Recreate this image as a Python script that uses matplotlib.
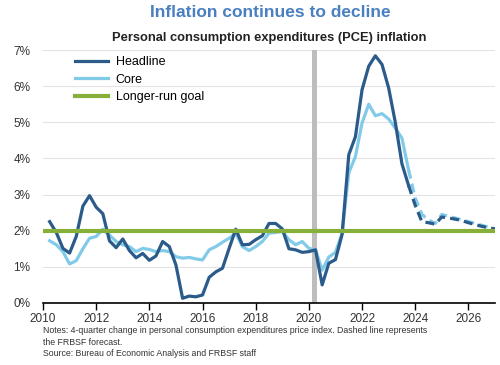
import numpy as np
import pandas as pd
import matplotlib

matplotlib.use("Agg")
import matplotlib.pyplot as plt

plt.rcParams["font.family"] = ["Liberation Sans", "DejaVu Sans"]

# quarterly PCE inflation, 2010Q1 - 2026Q4 (forecast from 2023Q3 on)
quarters = pd.period_range("2010Q1", "2026Q4", freq="Q")
headline = [
    2.25, 1.95, 1.51, 1.38, 1.84, 2.68, 2.97, 2.65, 2.47, 1.72,
    1.53, 1.77, 1.45, 1.25, 1.37, 1.18, 1.30, 1.70, 1.56, 1.05,
    0.13, 0.19, 0.17, 0.22, 0.71, 0.86, 0.96, 1.51, 2.04, 1.61,
    1.62, 1.75, 1.86, 2.20, 2.20, 2.05, 1.50, 1.47, 1.40, 1.42,
    1.47, 0.50, 1.10, 1.20, 1.90, 4.10, 4.60, 5.90, 6.55, 6.84,
    6.60, 5.95, 5.00, 3.85, 3.25, 2.70, 2.25, 2.22, 2.18, 2.38,
    2.35, 2.32, 2.28, 2.22, 2.17, 2.12, 2.08, 2.05,
]
core = [
    1.72, 1.61, 1.42, 1.08, 1.17, 1.50, 1.79, 1.84, 2.04, 1.88,
    1.70, 1.61, 1.56, 1.42, 1.51, 1.48, 1.42, 1.45, 1.42, 1.28,
    1.24, 1.26, 1.22, 1.19, 1.47, 1.56, 1.68, 1.79, 1.93, 1.56,
    1.45, 1.56, 1.70, 1.93, 1.95, 1.98, 1.75, 1.61, 1.70, 1.51,
    1.47, 0.91, 1.27, 1.40, 1.93, 3.60, 4.05, 4.98, 5.50, 5.18,
    5.24, 5.09, 4.84, 4.56, 3.68, 2.90, 2.45, 2.30, 2.20, 2.45,
    2.40, 2.35, 2.30, 2.25, 2.20, 2.15, 2.10, 2.05,
]
forecast_start = "2023Q3"
goal = 2.0
recession = (2020.10, 2020.31)
year_ticks = list(range(2010, 2027, 2))

x = np.array([q.year + q.quarter / 4 for q in quarters])
headline = np.array(headline)
core = np.array(core)
i0 = list(quarters.astype(str)).index(forecast_start)

dark = "#2b5b8a"
light = "#82cbe8"
green = "#86b03a"
dash = (0, (2.8, 1.6))

fig = plt.figure(figsize=(5, 3.65), dpi=100)
ax = fig.add_axes([0.086, 0.170, 0.904, 0.693])

ax.axvspan(*recession, color="#bdbdbd", lw=0, zorder=1)

ax.plot(x[: i0 + 1], core[: i0 + 1], color=light, lw=2.3, zorder=3, label="Core")
ax.plot(x[i0:], core[i0:], color=light, lw=2.3, ls=dash, zorder=3)
ax.plot(x[: i0 + 1], headline[: i0 + 1], color=dark, lw=2.3, zorder=4, label="Headline")
ax.plot(x[i0:], headline[i0:], color=dark, lw=2.3, ls=dash, zorder=4)
ax.axhline(goal, color=green, lw=3, zorder=5, label="Longer-run goal")

ax.set_xlim(2010, 2027)
ax.set_ylim(0, 7)
ax.set_yticks(range(0, 8))
ax.set_yticklabels([f"{v}%" for v in range(0, 8)])
ax.set_xticks(year_ticks)
ax.set_xticklabels([str(y) for y in year_ticks])
ax.grid(axis="y", color="#e3e3e3", lw=0.8, zorder=0)
ax.set_axisbelow(True)
for s in ["left", "top", "right"]:
    ax.spines[s].set_visible(False)
ax.spines["bottom"].set_color("black")
ax.spines["bottom"].set_linewidth(1.2)
ax.spines["bottom"].set_zorder(6)
ax.tick_params(axis="x", direction="out", length=5, width=1, color="black",
               labelsize=8.5, labelcolor="#333333", pad=2)
ax.tick_params(axis="y", length=0, labelsize=8.5, labelcolor="#333333", pad=9)

handles, labels = ax.get_legend_handles_labels()
order = [labels.index(n) for n in ["Headline", "Core", "Longer-run goal"]]
ax.legend([handles[i] for i in order], [labels[i] for i in order],
          loc="upper left", bbox_to_anchor=(0.045, 1.02), frameon=False,
          fontsize=9, handlelength=2.7, handletextpad=0.6, labelspacing=0.45)

fig.text(0.54, 0.965, "Inflation continues to decline", ha="center", va="center",
         fontsize=12.5, fontweight="bold", color="#4a7fc1")
fig.text(0.538, 0.895, "Personal consumption expenditures (PCE) inflation",
         ha="center", va="center", fontsize=9.3, fontweight="bold", color="#222222")
fig.text(0.086, 0.063,
         "Notes: 4-quarter change in personal consumption expenditures price index. Dashed line represents\n"
         "the FRBSF forecast.\nSource: Bureau of Economic Analysis and FRBSF staff",
         ha="left", va="center", fontsize=6.3, color="#333333", linespacing=1.3)

fig.savefig("out.png", dpi=100)
